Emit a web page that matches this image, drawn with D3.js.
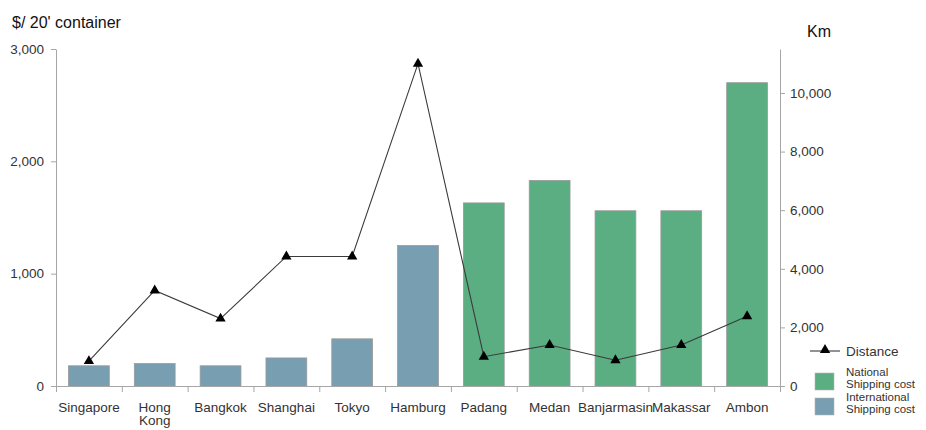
<!DOCTYPE html>
<html>
<head>
<meta charset="utf-8">
<script src="https://cdn.jsdelivr.net/npm/d3@7"></script>
<style>
  html, body { margin: 0; padding: 0; background: #fff; }
  svg { display: block; font-family: "Liberation Sans", Arial, sans-serif; }
</style>
</head>
<body>
<svg id="chart" width="926" height="430"></svg>
<script>
// Ports, container shipping cost from Jakarta and sea distance
const categories = ["Singapore", "Hong Kong", "Bangkok", "Shanghai", "Tokyo", "Hamburg",
                    "Padang", "Medan", "Banjarmasin", "Makassar", "Ambon"];
const internationalCost = [180, 200, 180, 250, 420, 1250, null, null, null, null, null];
const nationalCost = [null, null, null, null, null, null, 1630, 1830, 1560, 1560, 2700];
const distanceKm = [850, 3260, 2300, 4420, 4420, 11000, 1000, 1400, 880, 1400, 2380];
const costTicks = [0, 1000, 2000, 3000];
const kmTicks = [0, 2000, 4000, 6000, 8000, 10000];

const svg = d3.select("#chart");
const plotLeft = 56, plotRight = 780, plotTop = 49, plotBottom = 386;
const axisColor = "#a6a6a6";
const textColor = "#333";

const x = d3.scaleBand().domain(categories).range([plotLeft, plotRight])
  .paddingInner(0.38).paddingOuter(0.19);
const xEdges = d3.scaleLinear().domain([0, categories.length]).range([plotLeft, plotRight]);
const yCost = d3.scaleLinear().domain([0, 3000]).range([plotBottom, plotTop]);
const yKm = d3.scaleLinear().domain([0, 11500]).range([plotBottom, plotTop]);

const colors = { national: "#5aae82", international: "#789fb1" };

// Bars
const barData = categories.map((c, i) => internationalCost[i] != null
  ? { c, v: internationalCost[i], type: "international" }
  : { c, v: nationalCost[i], type: "national" });

svg.append("g").selectAll("rect").data(barData).join("rect")
  .attr("x", d => x(d.c))
  .attr("width", x.bandwidth())
  .attr("y", d => yCost(d.v))
  .attr("height", d => yCost(0) - yCost(d.v))
  .attr("fill", d => colors[d.type])
  .attr("stroke", "#9a9a9a")
  .attr("stroke-width", 0.8);

// Axes
function styleAxis(g) {
  g.selectAll(".domain").attr("stroke", axisColor);
  g.selectAll(".tick line").attr("stroke", axisColor);
  g.selectAll("text").attr("fill", textColor).style("font-size", "13.5px")
    .style("font-family", "'Liberation Sans', Arial, sans-serif");
}

svg.append("g").attr("transform", `translate(${plotLeft},0)`)
  .call(d3.axisLeft(yCost).tickValues(costTicks).tickFormat(d3.format(",")).tickSize(5).tickPadding(7).tickSizeOuter(0))
  .call(styleAxis);

svg.append("g").attr("transform", `translate(${plotRight},0)`)
  .call(d3.axisRight(yKm).tickValues(kmTicks).tickFormat(d3.format(",")).tickSize(5).tickPadding(5).tickSizeOuter(0))
  .call(styleAxis);

// Category boundary ticks
svg.append("g").attr("transform", `translate(0,${plotBottom})`)
  .call(d3.axisBottom(xEdges).tickValues(d3.range(categories.length + 1)).tickFormat("").tickSize(6).tickSizeOuter(0))
  .call(styleAxis);

// Category labels
const labelAxis = svg.append("g").attr("transform", `translate(0,${plotBottom})`)
  .call(d3.axisBottom(x).tickSize(0).tickPadding(16))
  .call(styleAxis);
labelAxis.select(".domain").remove();
labelAxis.selectAll(".tick text").each(function (d) {
  const words = d.split(" ");
  if (words.length > 1) {
    const t = d3.select(this).text(null);
    words.forEach((w, i) => t.append("tspan").attr("x", 0).attr("dy", i === 0 ? "0.71em" : "1.0em").text(w));
    t.attr("dy", null);
  }
});

// Distance line
const line = d3.line().x((d, i) => x(categories[i]) + x.bandwidth() / 2).y(d => yKm(d));
svg.append("path").datum(distanceKm)
  .attr("d", line).attr("fill", "none").attr("stroke", "#3a3a3a").attr("stroke-width", 1.1);

const tri = d3.symbol().type(d3.symbolTriangle).size(46);
svg.append("g").selectAll("path").data(distanceKm).join("path")
  .attr("transform", (d, i) => `translate(${x(categories[i]) + x.bandwidth() / 2},${yKm(d)})`)
  .attr("d", tri).attr("fill", "#000");

// Axis titles
svg.append("text").attr("x", 12).attr("y", 28).text("$/ 20' container")
  .attr("fill", "#111").style("font-size", "16px");
svg.append("text").attr("x", 807).attr("y", 37).text("Km")
  .attr("fill", "#111").style("font-size", "16px");

// Legend
const lg = svg.append("g");
lg.append("line").attr("x1", 810).attr("x2", 840).attr("y1", 351).attr("y2", 351)
  .attr("stroke", "#3a3a3a").attr("stroke-width", 1.1);
lg.append("path").attr("d", tri).attr("transform", "translate(825,350)").attr("fill", "#000");
lg.append("text").attr("x", 846).attr("y", 356).text("Distance")
  .attr("fill", textColor).style("font-size", "13.5px");

const legendItems = [
  { key: "national", lines: ["National", "Shipping cost"], y: 373 },
  { key: "international", lines: ["International", "Shipping cost"], y: 398 }
];
legendItems.forEach(item => {
  lg.append("rect").attr("x", 815).attr("y", item.y).attr("width", 19).attr("height", 17)
    .attr("fill", colors[item.key]).attr("stroke", "#b5b5b5").attr("stroke-width", 0.6);
  const t = lg.append("text").attr("fill", textColor).style("font-size", "11.5px");
  item.lines.forEach((w, i) => t.append("tspan").attr("x", 846).attr("y", item.y + 3 + i * 12).text(w));
});
</script>
</body>
</html>
